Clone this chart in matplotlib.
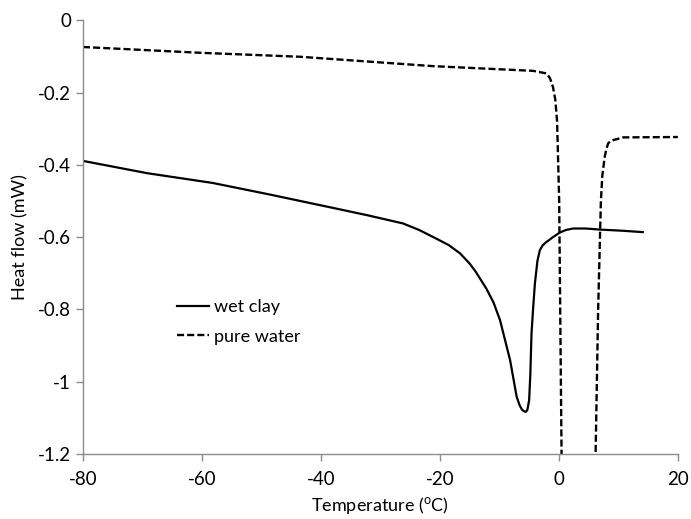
import matplotlib
matplotlib.use('Agg')
import matplotlib.pyplot as plt

plt.rcParams['font.family'] = ['Lato', 'DejaVu Sans']
plt.rcParams['mathtext.fontset'] = 'custom'
plt.rcParams['mathtext.rm'] = 'Lato'
plt.rcParams['axes.unicode_minus'] = False

# DSC traces, heat flow (mW) vs temperature (C)
clay_T = [-80, -69.2, -58.2, -48.6, -42.0, -37.4, -32.0, -26.2, -23.5, -20.6, -18.5, -16.6,
          -15.0, -14.0, -12.2, -11.0, -9.9, -8.2, -7.1, -6.6, -6.2, -5.8, -5.55, -5.3, -5.0,
          -4.8, -4.6, -4.3, -4.03, -3.6, -3.2, -2.7, -2.07, -1.0, 0.17, 1.2, 2.4, 4.5, 6.9, 10.5, 14.1]
clay_Q = [-0.389, -0.423, -0.450, -0.482, -0.505, -0.521, -0.540, -0.562, -0.580, -0.604, -0.622, -0.645,
          -0.673, -0.695, -0.742, -0.780, -0.829, -0.940, -1.041, -1.065, -1.077, -1.082, -1.083, -1.078, -1.051,
          -0.980, -0.866, -0.790, -0.728, -0.665, -0.636, -0.622, -0.613, -0.600, -0.587, -0.580, -0.576, -0.576, -0.579, -0.582, -0.586]

water_T = [-80, -60.3, -43.5, -21.1, -4.3, -2.1, -1.5, -1.0, -0.6, -0.3, 0.05, 0.45, 0.5,
           6.0, 6.17, 6.6, 7.06, 7.3, 7.7, 8.0, 8.3, 8.8, 10.8, 20]
water_Q = [-0.074, -0.090, -0.101, -0.127, -0.140, -0.147, -0.160, -0.184, -0.22, -0.28, -0.5, -1.2, -1.3,
           -1.3, -1.2, -0.8, -0.5, -0.43, -0.378, -0.355, -0.340, -0.333, -0.324, -0.323]

xticks = [-80, -60, -40, -20, 0, 20]
yticks = [0, -0.2, -0.4, -0.6, -0.8, -1, -1.2]
ytick_labels = ['0', '-0.2', '-0.4', '-0.6', '-0.8', '-1', '-1.2']

fig = plt.figure(figsize=(6.91, 5.19), dpi=100)
ax = fig.add_axes([0.120, 0.125, 0.861, 0.836])

ax.plot(clay_T, clay_Q, color='black', lw=1.6, label='wet clay')
ax.plot(water_T, water_Q, color='black', lw=1.7, dashes=(3.0, 1.3), label='pure water')

ax.set_xlim(-80, 20)
ax.set_ylim(-1.2, 0)
ax.set_xticks(xticks)
ax.set_xticklabels([str(t) for t in xticks])
ax.set_yticks(yticks)
ax.set_yticklabels(ytick_labels)

for s in ['top', 'right']:
    ax.spines[s].set_visible(False)
for s in ['left', 'bottom']:
    ax.spines[s].set_color('#8c8c8c')
    ax.spines[s].set_linewidth(1.0)
ax.tick_params(axis='both', colors='#8c8c8c', labelcolor='black', labelsize=13.5,
               length=5, width=1.0, direction='out')
ax.tick_params(axis='x', pad=7)

ax.set_xlabel(r'Temperature ($^{\rm o}$C)', fontsize=13, labelpad=5)
ax.set_ylabel('Heat flow (mW)', fontsize=13, labelpad=7)

ax.legend(loc='upper left', bbox_to_anchor=(0.13, 0.395), frameon=False, fontsize=13,
          handlelength=1.8, handletextpad=0.3, labelspacing=0.75)

fig.savefig('out.png', dpi=100)
